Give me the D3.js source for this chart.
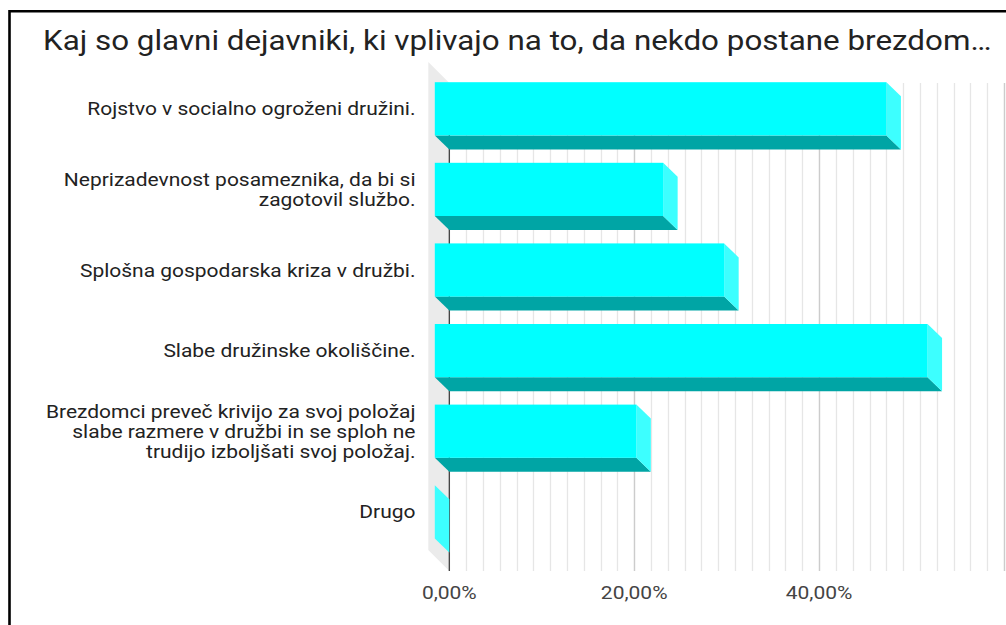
<!DOCTYPE html>
<html>
<head>
<meta charset="utf-8">
<script src="https://cdn.jsdelivr.net/npm/d3@7"></script>
<style>
  html, body { margin: 0; padding: 0; background: #fff; }
  svg { display: block; font-family: Roboto, "Noto Sans", sans-serif; }
</style>
</head>
<body>
<svg id="chart" width="1006" height="625"></svg>
<script>
// chart data
var title = "Kaj so glavni dejavniki, ki vplivajo na to, da nekdo postane brezdom…";
var categories = [
    ["Rojstvo v socialno ogroženi družini."],
    ["Neprizadevnost posameznika, da bi si", "zagotovil službo."],
    ["Splošna gospodarska kriza v družbi."],
    ["Slabe družinske okoliščine."],
    ["Brezdomci preveč krivijo za svoj položaj", "slabe razmere v družbi in se sploh ne", "trudijo izboljšati svoj položaj."],
    ["Drugo"]
];
var values = [0.4885, 0.247, 0.313, 0.533, 0.218, 0];
var tickValues = [0, 0.2, 0.4];

var svg = d3.select("#chart");

// slovenian style number format
var sl = d3.formatLocale({ decimal: ",", thousands: ".", grouping: [3], currency: ["", " €"] });
var fmt = sl.format(".2%");

var x = d3.scaleLinear().domain([0, 0.6]).range([449.3, 1004]);
var y = d3.scaleBand()
    .domain(d3.range(categories.length))
    .range([82.5, 566.1])
    .paddingInner(0.34)
    .paddingOuter(0.17);

var plotTop = 83, plotBottom = 571;
var wallDepth = 21;
var dx = 14.5, dy = 14; // depth of the bars
var titleStretch = 1.12, labelStretch = 1.135; // text in the picture is a bit wider than plain Roboto

// frame
svg.append("path")
    .attr("d", "M9.5,625V11.2H1006")
    .attr("fill", "none")
    .attr("stroke", "#000")
    .attr("stroke-width", 2.6);

// title
svg.append("text")
    .attr("transform", "translate(43,50) scale(" + titleStretch + ",1)")
    .attr("font-size", 28)
    .attr("fill", "#222")
    .text(title);

// left wall
svg.append("polygon")
    .attr("points", [
        [x(0) - wallDepth, plotTop - wallDepth],
        [x(0), plotTop],
        [x(0), plotBottom],
        [x(0) - wallDepth, plotBottom - wallDepth]
    ].join(" "))
    .attr("fill", "#ebebeb");

// minor gridlines (11 per major step)
var minor = d3.range(0, 34).map(function(i) { return i * 0.2 / 11; });
svg.selectAll("line.minor")
    .data(minor)
    .enter()
    .append("line")
    .attr("class", "minor")
    .attr("x1", function(d) { return Math.round(x(d)) + 0.5; })
    .attr("x2", function(d) { return Math.round(x(d)) + 0.5; })
    .attr("y1", plotTop)
    .attr("y2", plotBottom)
    .attr("stroke", "#e6e6e6")
    .attr("stroke-width", 1.3);

// major gridlines
svg.selectAll("line.major")
    .data([0.2, 0.4, 0.6])
    .enter()
    .append("line")
    .attr("class", "major")
    .attr("x1", function(d) { return Math.round(x(d)) + 0.5; })
    .attr("x2", function(d) { return Math.round(x(d)) + 0.5; })
    .attr("y1", plotTop)
    .attr("y2", plotBottom)
    .attr("stroke", "#cccccc")
    .attr("stroke-width", 1.3);

// zero line
svg.append("line")
    .attr("x1", x(0)).attr("x2", x(0))
    .attr("y1", plotTop).attr("y2", plotBottom)
    .attr("stroke", "#333")
    .attr("stroke-width", 1.2);

// 3d bars
var bars = svg.selectAll("g.bar")
    .data(values)
    .enter()
    .append("g")
    .attr("class", "bar");

// bottom face
bars.append("polygon")
    .attr("points", function(d, i) {
        var x0 = x(0), x1 = x(d), yb = y(i) + y.bandwidth();
        return [[x0 - dx, yb - dy], [x1 - dx, yb - dy], [x1, yb], [x0, yb]].join(" ");
    })
    .attr("fill", "#00a5a5");

// side face
bars.append("polygon")
    .attr("points", function(d, i) {
        var x1 = x(d), yt = y(i), yb = y(i) + y.bandwidth();
        return [[x1 - dx, yt - dy], [x1, yt], [x1, yb], [x1 - dx, yb - dy]].join(" ");
    })
    .attr("fill", "#3dffff");

// front face
bars.append("rect")
    .attr("x", x(0) - dx)
    .attr("y", function(d, i) { return y(i) - dy; })
    .attr("width", function(d) { return x(d) - x(0); })
    .attr("height", y.bandwidth())
    .attr("fill", "#00ffff");

// category labels
var lineH = 20;
svg.selectAll("g.cat")
    .data(categories)
    .enter()
    .append("g")
    .attr("class", "cat")
    .attr("transform", "translate(415.5,0) scale(" + labelStretch + ",1)")
    .append("text")
    .attr("text-anchor", "end")
    .attr("font-size", 18.5)
    .attr("fill", "#222")
    .each(function(lines, i) {
        var cy = y(i) - dy + y.bandwidth() / 2;
        d3.select(this).selectAll("tspan")
            .data(lines)
            .enter()
            .append("tspan")
            .attr("x", 0)
            .attr("y", function(l, j) { return cy + (j - (lines.length - 1) / 2) * lineH + 6.6; })
            .text(function(l) { return l; });
    });

// axis tick labels
svg.selectAll("text.tick")
    .data(tickValues)
    .enter()
    .append("text")
    .attr("class", "tick")
    .attr("transform", function(d) { return "translate(" + x(d) + ",599) scale(" + labelStretch + ",1)"; })
    .attr("text-anchor", "middle")
    .attr("font-size", 18.5)
    .attr("fill", "#444")
    .text(function(d) { return fmt(d); });
</script>
</body>
</html>
